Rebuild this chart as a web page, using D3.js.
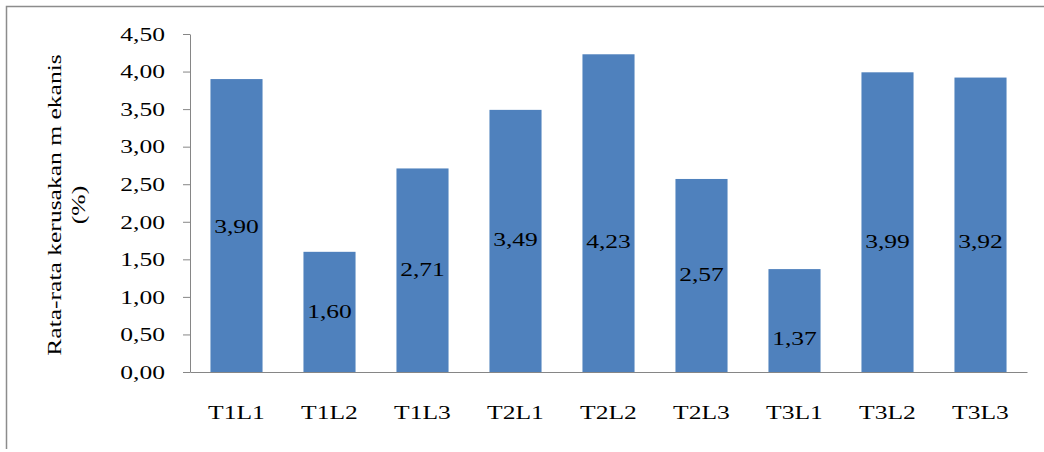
<!DOCTYPE html>
<html>
<head>
<meta charset="utf-8">
<script src="https://cdn.jsdelivr.net/npm/d3@7"></script>
<style>
  body { margin: 0; background: #fff; }
  text { font-family: "Liberation Serif", "Times New Roman", serif; fill: #000; }
</style>
</head>
<body>
<div id="chart-area"></div>
<script>

// Categories and values
var categories = ["T1L1", "T1L2", "T1L3", "T2L1", "T2L2", "T2L3", "T3L1", "T3L2", "T3L3"];
var values = [3.90, 1.60, 2.71, 3.49, 4.23, 2.57, 1.37, 3.99, 3.92];
// height (in % units) where each value label sits inside its bar
var labelAt = [1.93, 0.80, 1.36, 1.76, 1.74, 1.30, 0.45, 1.74, 1.74];
var yTicks = [0, 0.5, 1, 1.5, 2, 2.5, 3, 3.5, 4, 4.5];
var yTitle = ["Rata-rata kerusakan m ekanis", "(%)"];

var width = 1044, height = 452;
var margin = {top: 34, right: 17, bottom: 80, left: 190};
var stretch = "scale(1.42,1)";   // the source text is rendered wide

// comma decimal format
var fmt = function(d) { return d3.format(".2f")(d).replace(".", ","); };

var svg = d3.select("#chart-area").append("svg")
    .attr("width", width)
    .attr("height", height);

// chart area frame (only top and left edges show)
svg.append("path")
    .attr("d", "M6.5," + (height - 3) + "V6.5H" + width)
    .attr("fill", "none")
    .attr("stroke", "#8c8c8c")
    .attr("stroke-width", 1.5);

var x = d3.scaleBand()
    .domain(categories)
    .range([margin.left, width - margin.right])
    .paddingInner(0.44)
    .paddingOuter(0.22);

var y = d3.scaleLinear()
    .domain([0, 4.5])
    .range([height - margin.bottom, margin.top]);

// bars
svg.selectAll("rect.bar")
    .data(values)
    .enter().append("rect")
    .attr("class", "bar")
    .attr("x", function(d, i) { return x(categories[i]); })
    .attr("y", function(d) { return y(d); })
    .attr("width", x.bandwidth())
    .attr("height", function(d) { return y(0) - y(d); })
    .attr("fill", "#4f81bd");

// y axis
var yAxis = svg.append("g")
    .attr("class", "axis y-axis")
    .attr("transform", "translate(" + margin.left + ",0)")
    .call(d3.axisLeft(y).tickValues(yTicks).tickFormat(fmt).tickSize(7).tickSizeOuter(0));

yAxis.select(".domain").attr("stroke", "#868686");
yAxis.selectAll(".tick line").attr("stroke", "#868686");
yAxis.selectAll(".tick text")
    .attr("x", 0)
    .attr("dy", "0.35em")
    .attr("font-size", 18)
    .attr("text-anchor", "end")
    .attr("transform", "translate(-25,0) " + stretch);

// x axis
var xAxis = svg.append("g")
    .attr("class", "axis x-axis")
    .attr("transform", "translate(0," + y(0) + ")")
    .call(d3.axisBottom(x).tickSize(0).tickSizeOuter(0));

xAxis.select(".domain").attr("stroke", "#868686");
xAxis.selectAll(".tick text")
    .attr("y", 0)
    .attr("dy", 0)
    .attr("font-size", 18)
    .attr("transform", "translate(0,47) " + stretch);

// value labels inside the bars
svg.selectAll("text.value")
    .data(values)
    .enter().append("text")
    .attr("class", "value")
    .attr("text-anchor", "middle")
    .attr("dy", "0.35em")
    .attr("font-size", 18)
    .attr("transform", function(d, i) {
        return "translate(" + (x(categories[i]) + x.bandwidth() / 2) + "," + y(labelAt[i]) + ") " + stretch;
    })
    .text(fmt);

// y axis title, two lines
svg.selectAll("text.y-title")
    .data(yTitle)
    .enter().append("text")
    .attr("class", "y-title")
    .attr("text-anchor", "middle")
    .attr("dominant-baseline", "central")
    .attr("font-size", 18)
    .attr("transform", function(d, i) {
        return "translate(" + (55 + i * 24) + "," + 205 + ") rotate(-90) " + stretch;
    })
    .text(function(d) { return d; });

</script>
</body>
</html>
